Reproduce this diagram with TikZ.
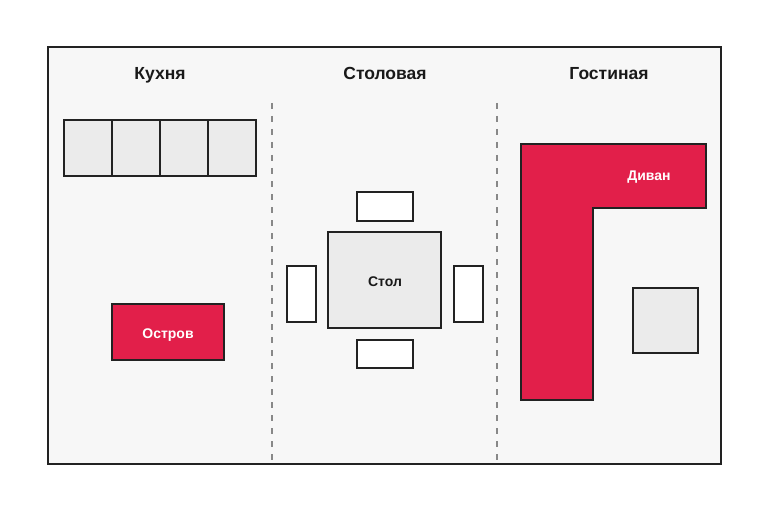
\documentclass[tikz,border=0pt]{standalone}
\usepackage{fontspec}
\setmainfont{Liberation Sans}
\definecolor{bgc}{HTML}{F7F7F7}
\definecolor{greyfill}{HTML}{EBEBEB}
\definecolor{redc}{HTML}{E21F4A}
\definecolor{linec}{HTML}{222222}
\definecolor{dashc}{HTML}{888888}
\tikzset{
  room/.style={draw=linec, line width=2pt, fill=bgc},
  divider/.style={draw=dashc, line width=1.4pt, dash pattern=on 6pt off 7pt},
  title/.style={font=\bfseries\fontsize{17.5}{20}\selectfont, text=black!90, anchor=base},
  greybox/.style={draw=linec, line width=1.8pt, fill=greyfill},
  redbox/.style={draw=linec, line width=1.8pt, fill=redc},
  chair/.style={draw=linec, line width=1.3pt, fill=white},
  whitelabel/.style={font=\bfseries\fontsize{14}{16}\selectfont, text=white, anchor=base},
  blacklabel/.style={font=\bfseries\fontsize{14}{16}\selectfont, text=black!90, anchor=base},
}
\begin{document}
\begin{tikzpicture}[x=1pt,y=-1pt]
\useasboundingbox (0,0) rectangle (770,513);
\fill[white] (0,0) rectangle (770,513);
\draw[room] (48,47) rectangle (721,464);
\draw[divider] (272,103) -- (272,464);
\draw[divider] (497,103) -- (497,464);
\node[title] (t1) at (160,80) {Кухня};
\node[title] (t2) at (385,80) {Столовая};
\node[title] (t3) at (609,80) {Гостиная};
% counter
\draw[greybox] (64,120) rectangle (256,176);
\draw[linec, line width=1.2pt] (112,120) -- (112,176) (160,120) -- (160,176) (208,120) -- (208,176);
% island
\draw[redbox] (112,304) rectangle (224,360);
\node[whitelabel] (island) at (168,338) {Остров};
% table and chairs
\draw[greybox] (328,232) rectangle (441,328);
\node[blacklabel] (table) at (385,286) {Стол};
\draw[chair] (357,192) rectangle (413,221);
\draw[chair] (357,340) rectangle (413,368);
\draw[chair] (287,266) rectangle (316,322);
\draw[chair] (454,266) rectangle (483,322);
% sofa
\draw[redbox, line join=miter] (521,144) -- (706,144) -- (706,208) -- (593,208) -- (593,400) -- (521,400) -- cycle;
\node[whitelabel] (sofa) at (649,180) {Диван};
% coffee table
\draw[greybox] (633,288) rectangle (698,353);
\end{tikzpicture}
\end{document}
